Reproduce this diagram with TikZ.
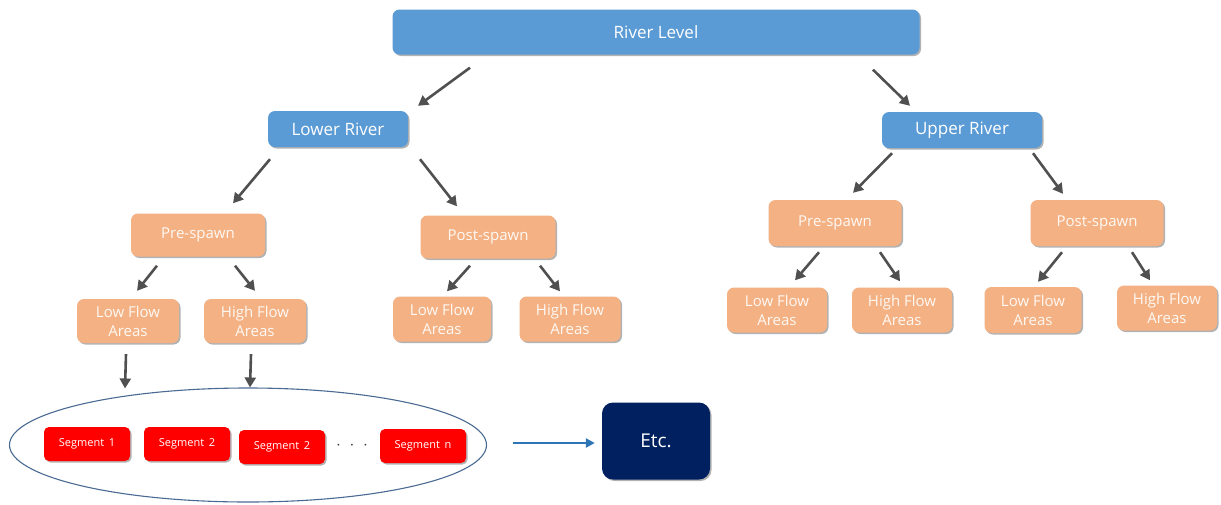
\documentclass[tikz,border=0pt]{standalone}
\usepackage{fontspec}
\setmainfont{Open Sans}
\usetikzlibrary{calc,shadows,arrows.meta,shapes.geometric}
\definecolor{rblue}{HTML}{5B9BD5}
\definecolor{rorange}{HTML}{F4B183}
\definecolor{rnavy}{HTML}{002060}
\definecolor{rarrow}{HTML}{505050}
\definecolor{rline}{HTML}{2E75B6}
\definecolor{rell}{HTML}{4A6A94}
\begin{document}
\begin{tikzpicture}[x=1pt,y=-1pt,
  box/.style={rounded corners=7pt, text=white, align=center, inner sep=0pt,
    drop shadow={shadow xshift=1.5pt,shadow yshift=-1.5pt,opacity=0.3,fill=black}},
  bluebox/.style={box, fill=rblue},
  orbox/.style={box, fill=rorange, text=white!92!rorange, font=\fontsize{15}{19}\selectfont},
  segbox/.style={box, fill=red, rounded corners=5pt, minimum width=86pt, minimum height=34pt, font=\fontsize{11}{13}\selectfont},
  arr/.style={draw=rarrow, line width=2.6pt, -{Triangle[length=10pt,width=11pt]}},
  barr/.style={draw=rline, line width=2.4pt, -{Triangle[length=9pt,width=9pt]}},
]
\useasboundingbox (0,0) rectangle (1221,504);
% top level
\node[bluebox, minimum width=527pt, minimum height=45pt, font=\fontsize{17}{20}\selectfont] (rl) at (656,32) {River Level};
\node[bluebox, minimum width=140pt, minimum height=36pt, font=\fontsize{17}{20}\selectfont] (lr) at (338,129) {Lower River};
\node[bluebox, minimum width=160pt, minimum height=36pt, font=\fontsize{17}{20}\selectfont] (ur) at (962,130) {Upper River};
% lower river branch
\node[orbox, minimum width=134pt, minimum height=43pt] (lpre) at (198,235) {Pre-spawn};
\node[orbox, minimum width=135pt, minimum height=43pt] (lpost) at (488,237) {Post-spawn};
\node[orbox, minimum width=102pt, minimum height=44pt] (llf1) at (128,321) {Low Flow\\Areas};
\node[orbox, minimum width=102pt, minimum height=44pt] (lhf1) at (255,321) {High Flow\\Areas};
\node[orbox, minimum width=98pt, minimum height=45pt] (llf2) at (442,319) {Low Flow\\Areas};
\node[orbox, minimum width=101pt, minimum height=45pt] (lhf2) at (570,319) {High Flow\\Areas};
% upper river branch
\node[orbox, minimum width=133pt, minimum height=46pt] (upre) at (835,223) {Pre-spawn};
\node[orbox, minimum width=133pt, minimum height=46pt] (upost) at (1097,223) {Post-spawn};
\node[orbox, minimum width=100pt, minimum height=45pt] (ulf1) at (777,310) {Low Flow\\Areas};
\node[orbox, minimum width=100pt, minimum height=45pt] (uhf1) at (902,310) {High Flow\\Areas};
\node[orbox, minimum width=97pt, minimum height=46pt] (ulf2) at (1033,310) {Low Flow\\Areas};
\node[orbox, minimum width=100pt, minimum height=45pt] (uhf2) at (1167,308) {High Flow\\Areas};
% segments group
\node[draw=rell, line width=1.1pt, ellipse, minimum width=477pt, minimum height=114pt] (ell) at (248,445) {};
\node[segbox] (s1) at (87,444) {Segment\, 1};
\node[segbox] (s2) at (187,444) {Segment\, 2};
\node[segbox] (s3) at (282,447) {Segment\, 2};
\node[text=rarrow!70!black, font=\fontsize{16}{18}\selectfont] (dots) at (352,446) {$\cdot\;\cdot\;\cdot$};
\node[segbox] (sn) at (423,446) {Segment\, n};
\node[box, fill=rnavy, rounded corners=11pt, minimum width=108pt, minimum height=77pt, font=\fontsize{19}{22}\selectfont] (etc) at (656,441) {Etc.};
% connectors
\draw[arr] ($(rl.south)+(-186,13)$) -- ($(lr.north)+(80,-5)$);
\draw[arr] ($(rl.south)+(217,15)$) -- ($(ur.north)+(-52,-6)$);
\draw[arr] ($(lr.south)+(-68,12)$) -- ($(lpre.north)+(35,-10)$);
\draw[arr] ($(lr.south)+(82,12)$) -- ($(lpost.north)+(-31,-9)$);
\draw[arr] ($(lpre.south)+(-41,9)$) -- ($(llf1.north)+(9,-8)$);
\draw[arr] ($(lpre.south)+(37,9)$) -- ($(lhf1.north)+(0,-8)$);
\draw[arr] ($(lpost.south)+(-18,7)$) -- ($(llf2.north)+(5,-5)$);
\draw[arr] ($(lpost.south)+(52,7)$) -- ($(lhf2.north)+(-10,-5)$);
\draw[arr] ($(ur.south)+(-70,5)$) -- ($(upre.north)+(18,-7)$);
\draw[arr] ($(ur.south)+(71,5)$) -- ($(upost.north)+(-34,-6)$);
\draw[arr] ($(upre.south)+(-16,6)$) -- ($(ulf1.north)+(18,-7)$);
\draw[arr] ($(upre.south)+(45,6)$) -- ($(uhf1.north)+(-2,-6)$);
\draw[arr] ($(upost.south)+(-35,6)$) -- ($(ulf2.north)+(5,-5)$);
\draw[arr] ($(upost.south)+(35,6)$) -- ($(uhf2.north)+(-17,-5)$);
\draw[arr] ($(llf1.south)+(-2,11)$) -- ($(ell.north)+(-123,1)$);
\draw[arr] ($(lhf1.south)+(-4,11)$) -- ($(ell.north)+(2,0)$);
\draw[barr] ($(ell.east)+(26,-2)$) -- ($(etc.west)+(-7,2)$);
\end{tikzpicture}
\end{document}
